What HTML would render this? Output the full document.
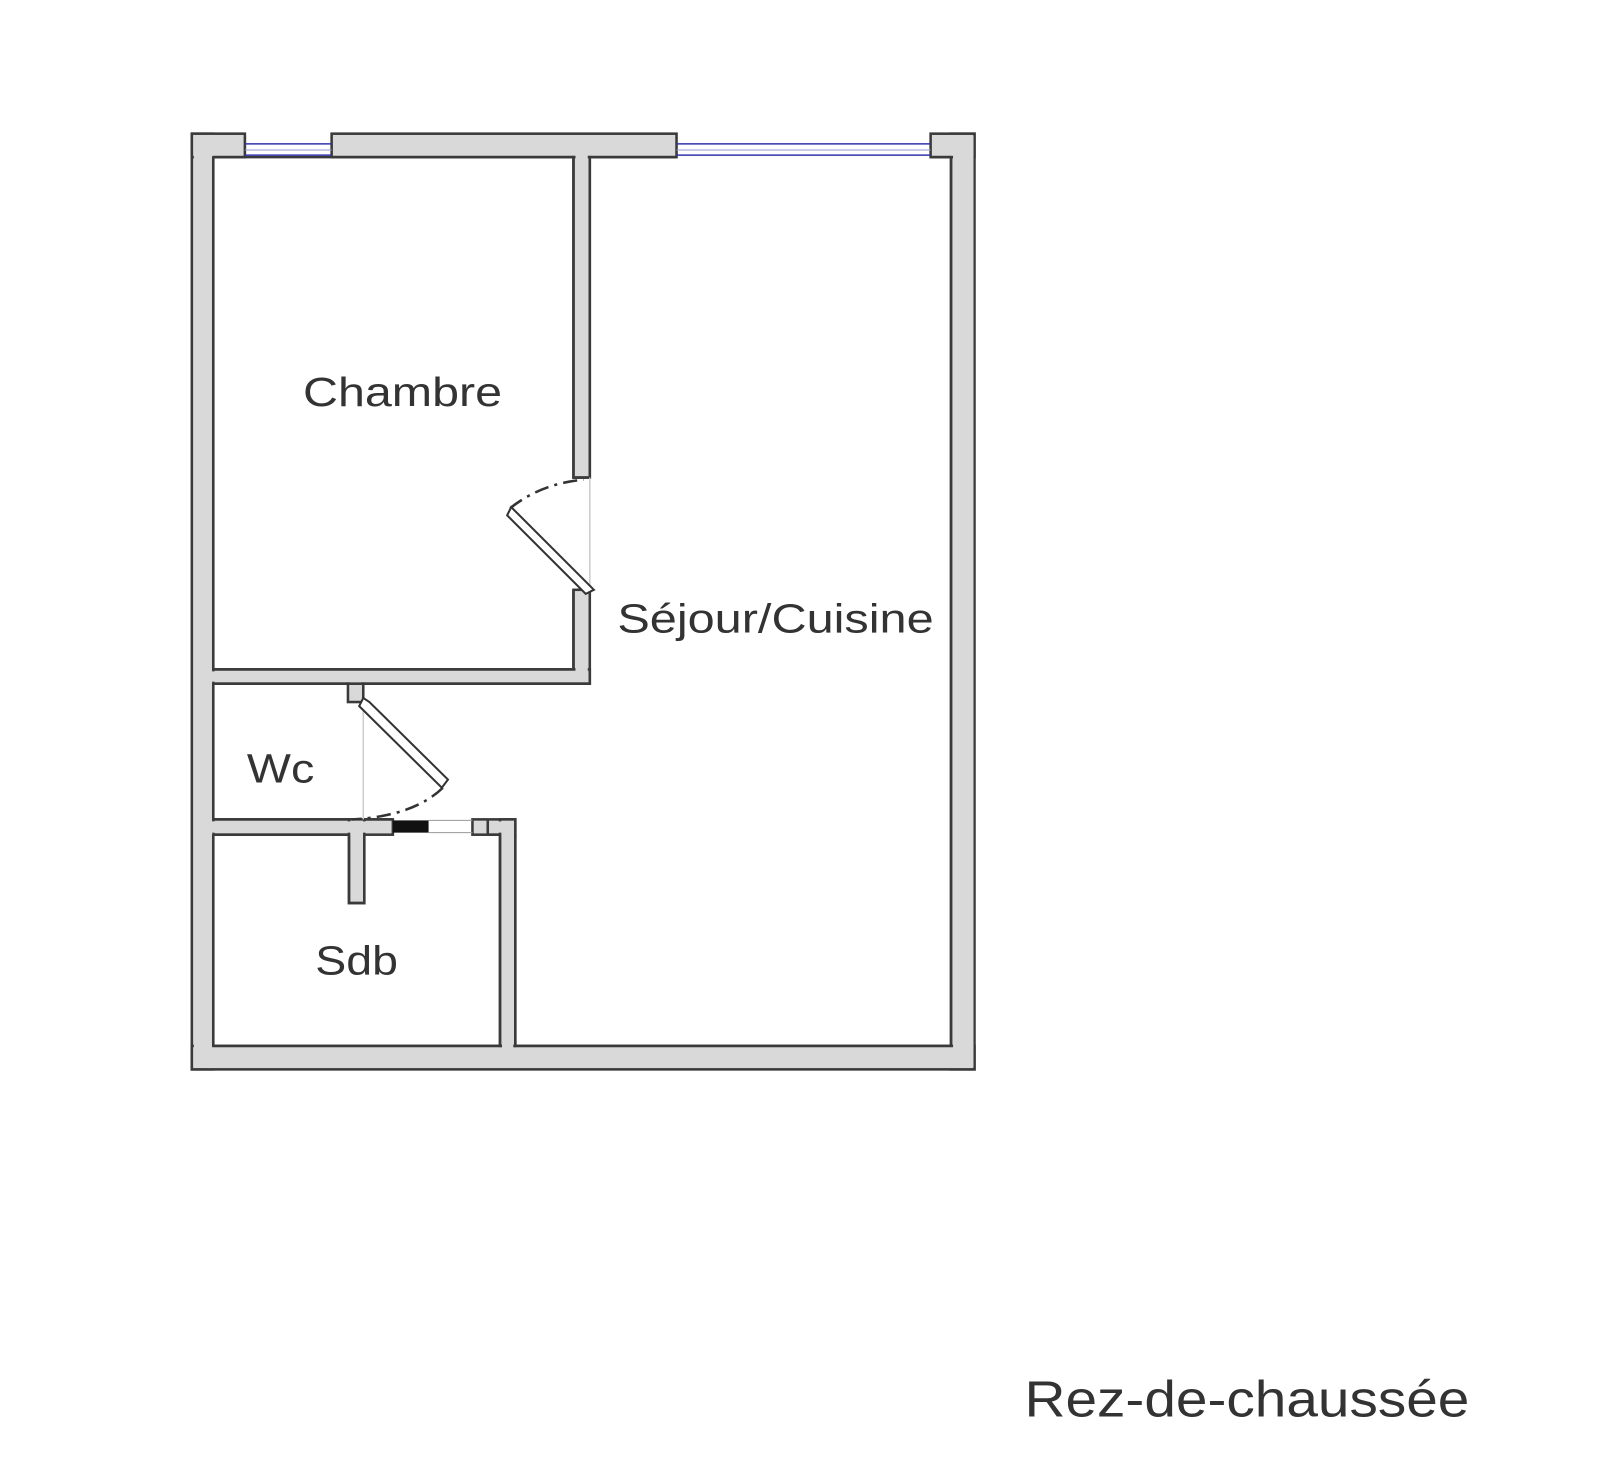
<!DOCTYPE html>
<html><head><meta charset="utf-8"><style>
html,body{margin:0;padding:0;background:#fff;}
svg{display:block}
text{font-family:"Liberation Sans",sans-serif;fill:#333;}
</style></head><body>
<svg width="1600" height="1476" viewBox="0 0 1568 1446.5" preserveAspectRatio="none" xmlns="http://www.w3.org/2000/svg">
<g fill="#d9d9d9" stroke="#3a3a3a" stroke-width="2.5">
  <rect x="188" y="131" width="21" height="917"/>
  <rect x="932" y="131" width="23" height="917"/>
  <rect x="188" y="1025" width="767" height="23"/>
  <rect x="188" y="131" width="52" height="23"/>
  <rect x="325" y="131" width="338" height="23"/>
  <rect x="912" y="131" width="43" height="23"/>
  <rect x="562" y="154" width="16" height="314"/>
  <rect x="562" y="578" width="16" height="92"/>
  <rect x="209" y="656" width="369" height="14"/>
  <rect x="209" y="803" width="176" height="15"/>
  <rect x="463" y="803" width="42" height="15"/>
  <rect x="490" y="803" width="15" height="222"/>
  <rect x="341" y="670" width="15" height="18"/>
  <rect x="342" y="803" width="15" height="82"/>
</g>
<g fill="#d9d9d9">
  <rect x="190" y="133" width="18" height="913"/>
  <rect x="934" y="133" width="20" height="913"/>
  <rect x="190" y="1027" width="763" height="19"/>
  <rect x="190" y="133" width="48" height="19"/>
  <rect x="327" y="133" width="334" height="19"/>
  <rect x="914" y="133" width="40" height="19"/>
  <rect x="564" y="150" width="12" height="316"/>
  <rect x="564" y="580" width="12" height="88"/>
  <rect x="207" y="658" width="369" height="10"/>
  <rect x="207" y="805" width="176" height="11"/>
  <rect x="343" y="668" width="11" height="18"/>
  <rect x="344" y="805" width="11" height="78"/>
  <rect x="465" y="805" width="38" height="11"/>
  <rect x="492" y="805" width="11" height="222"/>
</g>
<g stroke="#3a3a3a" stroke-width="2.5" fill="none">
  <path d="M209 154 V656 H562 V578 M578 670 H209 V803 H341 M356 803 H385 M209 818 H342 M357 818 V885 H342 V818 M209 818 V1025 H490 V818 H478 V803 M505 818 V1025 H932 V154 H912 M663 154 H578 V468 H562 V154 H209"/>
</g>
<g stroke="#3333aa" stroke-width="1.5">
  <line x1="240" y1="141" x2="325" y2="141"/>
  <line x1="240" y1="152" x2="325" y2="152"/>
  <line x1="663" y1="141" x2="912" y2="141"/>
  <line x1="663" y1="152" x2="912" y2="152"/>
</g>
<line x1="240" y1="147" x2="325" y2="147" stroke="#9999cc" stroke-width="1"/>
<line x1="663" y1="147" x2="912" y2="147" stroke="#9999cc" stroke-width="1"/>
<rect x="385" y="804" width="35" height="12" fill="#111"/>
<line x1="420" y1="804" x2="463" y2="804" stroke="#999" stroke-width="1"/>
<line x1="420" y1="816" x2="463" y2="816" stroke="#999" stroke-width="1"/>
<line x1="578" y1="468" x2="578" y2="578" stroke="#ccc" stroke-width="1.5"/>
<line x1="356" y1="688" x2="356" y2="803" stroke="#ccc" stroke-width="1.5"/>
<g fill="#fff" stroke="#333" stroke-width="2">
  <polygon points="578,574 582,578 574,582 497,505 501,497" />
  <polygon points="356,684 362,688 439,764 433,772 352,692"/>
</g>
<g fill="none" stroke="#333" stroke-width="2.5" stroke-dasharray="14,6,3,6">
  <path d="M500 498 Q530 474 572 470"/>
  <path d="M434 772 Q405 800 345 803"/>
</g>
<text x="297" y="398" font-size="40" textLength="195" lengthAdjust="spacingAndGlyphs">Chambre</text>
<text x="605" y="620" font-size="40" textLength="310" lengthAdjust="spacingAndGlyphs">Séjour/Cuisine</text>
<text x="242" y="767" font-size="40" textLength="66" lengthAdjust="spacingAndGlyphs">Wc</text>
<text x="309" y="955" font-size="40" textLength="81" lengthAdjust="spacingAndGlyphs">Sdb</text>
<text x="1004" y="1388" font-size="50" textLength="436" lengthAdjust="spacingAndGlyphs">Rez-de-chaussée</text>
</svg>
</body></html>
